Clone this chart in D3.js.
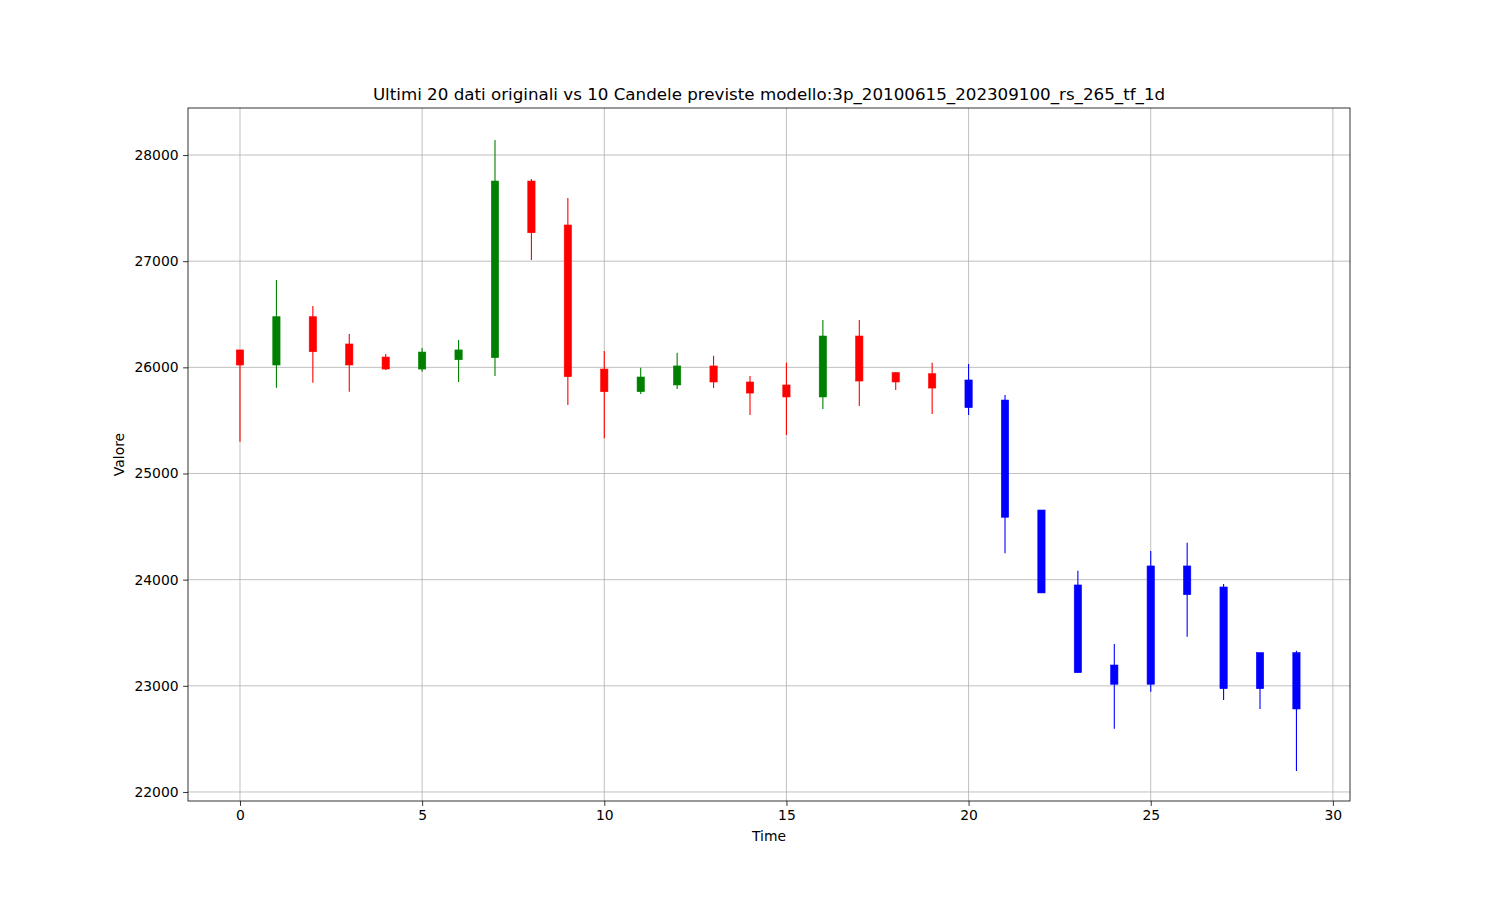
<!DOCTYPE html>
<html>
<head>
<meta charset="utf-8">
<script src="https://cdn.jsdelivr.net/npm/d3@7"></script>
<style>
  body { margin: 0; background: #fff; }
  svg { font-family: "DejaVu Sans", sans-serif; }
</style>
</head>
<body>
<svg id="chart" width="1500" height="900"></svg>
<script>
// ---- Data ----
const times = d3.range(0, 30);
const opens  = [26164, 26022, 26477, 26220, 26097, 25984, 26072, 26091, 27755, 27341,
                25984, 25771, 25834, 26013, 25862, 25834, 25721, 26295, 25950, 25940,
                25881, 25692, 24656, 23950, 23196, 24129, 24129, 23931, 23312, 23312];
const closes = [26022, 26477, 26147, 26022, 25984, 26144, 26164, 27755, 27268, 25912,
                25771, 25909, 26013, 25862, 25758, 25721, 26295, 25871, 25862, 25805,
                25620, 24588, 23875, 23124, 23015, 23015, 23859, 22973, 22973, 22782];
const highs  = [26164, 26823, 26578, 26314, 26126, 26182, 26258, 28141, 27774, 27595,
                26154, 25997, 26138, 26110, 25918, 26044, 26446, 26446, 25955, 26044,
                26031, 25739, 24656, 24085, 23394, 24270, 24348, 23959, 23312, 23331];
const lows   = [25300, 25808, 25855, 25771, 25975, 25959, 25862, 25918, 27011, 25645,
                25332, 25749, 25796, 25805, 25551, 25363, 25608, 25636, 25787, 25561,
                25551, 24248, 23875, 23124, 22596, 22945, 23463, 22867, 22782, 22198];
const nOriginal = 20;
const xTicks = [0, 5, 10, 15, 20, 25, 30];
const yTicks = [22000, 23000, 24000, 25000, 26000, 27000, 28000];
const titleText = "Ultimi 20 dati originali vs 10 Candele previste modello:3p_20100615_202309100_rs_265_tf_1d";
const xLabel = "Time";
const yLabel = "Valore";

// ---- Layout ----
const svg = d3.select("#chart");
const L = 188, R = 1350, T = 108, B = 801;

const x = d3.scaleLinear().domain([-1.427, 30.47]).range([L, R]);
const y = d3.scaleLinear().domain([21915, 28443]).range([B, T]);

const candles = times.map((t, i) => ({
  t, open: opens[i], close: closes[i], high: highs[i], low: lows[i],
  color: i >= nOriginal ? "#0000ff" : (closes[i] >= opens[i] ? "#008000" : "#ff0000")
}));

// grid
const g = svg.append("g");
g.selectAll(".vgrid").data(xTicks).enter().append("line")
  .attr("x1", d => x(d)).attr("x2", d => x(d))
  .attr("y1", T).attr("y2", B)
  .attr("stroke", "#b0b0b0").attr("stroke-width", 0.8);
g.selectAll(".hgrid").data(yTicks).enter().append("line")
  .attr("x1", L).attr("x2", R)
  .attr("y1", d => y(d)).attr("y2", d => y(d))
  .attr("stroke", "#b0b0b0").attr("stroke-width", 0.8);

// candles
const bodyW = x(0.2) - x(0);
const cg = svg.append("g");
cg.selectAll(".wick").data(candles).enter().append("line")
  .attr("x1", d => x(d.t)).attr("x2", d => x(d.t))
  .attr("y1", d => y(d.high)).attr("y2", d => y(d.low))
  .attr("stroke", d => d.color).attr("stroke-width", 1.1);
cg.selectAll(".body").data(candles).enter().append("rect")
  .attr("x", d => x(d.t) - bodyW / 2)
  .attr("width", bodyW)
  .attr("y", d => y(Math.max(d.open, d.close)))
  .attr("height", d => Math.max(1, Math.abs(y(d.open) - y(d.close))))
  .attr("fill", d => d.color)
  .attr("stroke", d => d.color).attr("stroke-width", 0.6);

// axes
const xAxis = d3.axisBottom(x).tickValues(xTicks).tickSizeOuter(0).tickSize(4.9).tickPadding(4.5);
const yAxis = d3.axisLeft(y).tickValues(yTicks).tickSizeOuter(0).tickSize(4.9).tickPadding(4.5).tickFormat(d3.format("d"));
const xa = svg.append("g").attr("transform", `translate(0,${B})`).call(xAxis);
const ya = svg.append("g").attr("transform", `translate(${L},0)`).call(yAxis);
[xa, ya].forEach(a => {
  a.select(".domain").remove();
  a.selectAll("text").attr("font-size", 13.9).attr("fill", "#000").attr("font-family", "DejaVu Sans");
  a.selectAll("line").attr("stroke", "#000").attr("stroke-width", 0.8);
});

// frame
svg.append("rect").attr("x", L).attr("y", T).attr("width", R - L).attr("height", B - T)
  .attr("fill", "none").attr("stroke", "#000").attr("stroke-width", 0.8);

// title and labels
svg.append("text").attr("x", (L + R) / 2).attr("y", 100)
  .attr("text-anchor", "middle").attr("font-size", 16.7).text(titleText);
svg.append("text").attr("x", (L + R) / 2).attr("y", 841)
  .attr("text-anchor", "middle").attr("font-size", 13.9).text(xLabel);
svg.append("text").attr("transform", `translate(124,${(T + B) / 2}) rotate(-90)`)
  .attr("text-anchor", "middle").attr("font-size", 13.9).text(yLabel);
</script>
</body>
</html>
